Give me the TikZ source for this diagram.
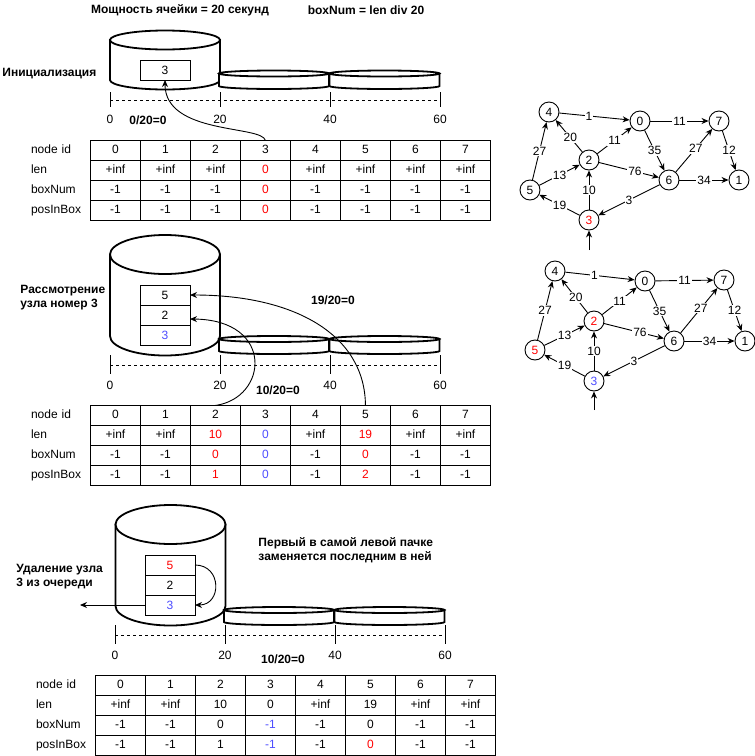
\documentclass[tikz,border=0pt]{standalone}
\usepackage{fontspec}
\setmainfont{Liberation Sans}
\usetikzlibrary{matrix,arrows.meta}
\definecolor{hlred}{RGB}{255,0,0}
\definecolor{hlblue}{RGB}{77,77,255}
\newcommand{\drum}[5]{%
  \draw[drumline,fill=white] (#1-#4,#2) -- (#1-#4,#3) arc[start angle=180,end angle=0,x radius=#4,y radius=#5] -- (#1+#4,#2) -- cycle;
  \draw[drumline,fill=white] (#1,#2) ellipse[x radius=#4,y radius=#5];}

\begin{document}
\begin{tikzpicture}[x=1pt,y=-1pt,line width=0.9pt,>={Stealth[length=7pt,width=6pt]},
    font=\fontsize{12}{14}\selectfont,
    drumline/.style={line width=1.8pt},
    slot/.style={draw,minimum width=50pt,minimum height=20pt,inner sep=0pt,outer sep=0pt,fill=white},
    head/.style={font=\fontsize{12}{14}\selectfont\bfseries,align=left,inner sep=0pt},
    vert/.style={draw,circle,minimum size=20pt,inner sep=0pt,fill=white},
    wt/.style={fill=white,inner sep=1pt},
    tbl/.style={matrix of nodes,anchor=north west,inner sep=0pt,outer sep=0pt,column sep=-0.9pt,row sep=-0.9pt,
      nodes={draw,minimum width=50pt,minimum height=20pt,inner sep=0pt,outer sep=0pt,anchor=center,text height=9pt,text depth=2pt},
      column 1/.style={nodes={draw=none,text width=59.9pt,align=left}}}]
    \useasboundingbox (0,0) rectangle (755,756);

    \node[head] (cap) at (180,10) {Мощность ячейки = 20 секунд};
    \node[head] (rule) at (366,10) {boxNum = len div 20};

    \drum{165}{40}{80}{55}{9.5}
    \drum{274}{73.5}{86}{55}{3}
    \drum{384.5}{73.5}{86}{55}{3}
    \draw (110,92) -- (110,107) (220,92) -- (220,107) (330,92) -- (330,107) (440,92) -- (440,107);
    \draw[dash pattern=on 3pt off 3pt] (110,100) -- (440,100);
    \node (axA0) at (110,119) {0};
    \node (axA20) at (220,119) {20};
    \node (axA40) at (330,119) {40};
    \node (axA60) at (440,119) {60};
    \node[head,anchor=west] (initA) at (2,74) {Инициализация};
    \node[head] (divA) at (148,120) {0/20=0};
    \node[slot] (bA3) at (165,70) {3};
    \matrix[tbl] (tA) at (31,140) {
      node id & 0 & 1 & 2 & 3 & 4 & 5 & 6 & 7 \\
      len & +inf & +inf & +inf & |[text=hlred]| 0 & +inf & +inf & +inf & +inf \\
      boxNum & -1 & -1 & -1 & |[text=hlred]| 0 & -1 & -1 & -1 & -1 \\
      posInBox & -1 & -1 & -1 & |[text=hlred]| 0 & -1 & -1 & -1 & -1 \\
    };
    \draw[->] (tA-1-5.north) .. controls (262,125) and (165,135) .. (bA3.south);

    \drum{165}{254.5}{336}{55}{19.5}
    \drum{274}{339}{351}{55}{3}
    \drum{384.5}{339}{351}{55}{3}
    \draw (110,355) -- (110,374) (220,355) -- (220,374) (330,355) -- (330,374) (440,355) -- (440,374);
    \draw[dash pattern=on 3pt off 3pt] (110,365) -- (440,365);
    \node (axB0) at (110,385) {0};
    \node (axB20) at (220,385) {20};
    \node (axB40) at (330,385) {40};
    \node (axB60) at (440,385) {60};
    \node[head,anchor=west] (stepB) at (20,298) {Рассмотрение\\узла номер 3};
    \node[head] (divB5) at (333,300) {19/20=0};
    \node[head] (divB2) at (278,390) {10/20=0};
    \node[slot] (bB5) at (165,295) {5};
    \node[slot] (bB2) at (165,315) {2};
    \node[slot,text=hlblue] (bB3) at (165,335) {3};
    \matrix[tbl] (tB) at (31,405) {
      node id & 0 & 1 & 2 & 3 & 4 & 5 & 6 & 7 \\
      len & +inf & +inf & |[text=hlred]| 10 & |[text=hlblue]| 0 & +inf & |[text=hlred]| 19 & +inf & +inf \\
      boxNum & -1 & -1 & |[text=hlred]| 0 & |[text=hlblue]| 0 & -1 & |[text=hlred]| 0 & -1 & -1 \\
      posInBox & -1 & -1 & |[text=hlred]| 1 & |[text=hlblue]| 0 & -1 & |[text=hlred]| 2 & -1 & -1 \\
    };
    \draw[->] (tB-1-7.north) .. controls (365,335) and (295,295) .. (bB5.east);
    \draw[->] (tB-1-4.north) .. controls (268,398) and (275,320) .. ([yshift=-4pt]bB2.east);

    \drum{170.5}{524.5}{606}{55}{19.5}
    \drum{279}{610}{622}{55}{3}
    \drum{389.5}{610}{622}{55}{3}
    \draw (115,625) -- (115,644) (225,625) -- (225,644) (335,625) -- (335,644) (445,625) -- (445,644);
    \draw[dash pattern=on 3pt off 3pt] (115,635) -- (445,635);
    \node (axC0) at (115,655) {0};
    \node (axC20) at (225,655) {20};
    \node (axC40) at (335,655) {40};
    \node (axC60) at (445,655) {60};
    \node[head,anchor=west] (stepC) at (16,577) {Удаление узла\\3 из очереди};
    \node[head,anchor=west] (noteC) at (258,550) {Первый в самой левой пачке\\заменяется последним в ней};
    \node[head] (divC) at (283,659) {10/20=0};
    \node[slot,text=hlred] (bC5) at (170,565) {5};
    \node[slot] (bC2) at (170,585) {2};
    \node[slot,text=hlblue] (bC3) at (170,605) {3};
    \coordinate (outC) at (80,605);
    \draw[->] (bC3) -- (outC);
    \draw[->] (bC5.east) .. controls (222,565) and (222,605) .. (bC3.east);
    \matrix[tbl] (tC) at (36,675) {
      node id & 0 & 1 & 2 & 3 & 4 & 5 & 6 & 7 \\
      len & +inf & +inf & 10 & 0 & +inf & 19 & +inf & +inf \\
      boxNum & -1 & -1 & 0 & |[text=hlblue]| -1 & -1 & 0 & -1 & -1 \\
      posInBox & -1 & -1 & 1 & |[text=hlblue]| -1 & -1 & |[text=hlred]| 0 & -1 & -1 \\
    };

    \node[vert] (gA4) at (549,112) {4};
    \node[vert] (gA0) at (640,121) {0};
    \node[vert] (gA7) at (719,121) {7};
    \node[vert] (gA2) at (589,160) {2};
    \node[vert] (gA5) at (530,190) {5};
    \node[vert] (gA6) at (669,180) {6};
    \node[vert] (gA1) at (739,180) {1};
    \node[vert,text=hlred] (gA3) at (589,220) {3};
    \coordinate (gAin) at (589,250);
    \draw[->] (gA4) -- node[wt,pos=.42] {1} (gA0);
    \draw[->] (gA0) -- node[wt] {11} (gA7);
    \draw[->] (gA0) -- node[wt] {35} (gA6);
    \draw[->] (gA2) -- node[wt,pos=.45] {20} (gA4);
    \draw[->] (gA2) -- node[wt] {11} (gA0);
    \draw[->] (gA5) -- node[wt] {27} (gA4);
    \draw[->] (gA5) -- node[wt] {13} (gA2);
    \draw[->] (gA2) -- node[wt,pos=.6] {76} (gA6);
    \draw[->] (gA6) -- node[wt,pos=.55] {27} (gA7);
    \draw[->] (gA7) -- node[wt] {12} (gA1);
    \draw[->] (gA6) -- node[wt] {34} (gA1);
    \draw[->] (gA3) -- node[wt] {10} (gA2);
    \draw[->] (gA3) -- node[wt] {19} (gA5);
    \draw[->] (gA6) -- node[wt] {3} (gA3);
    \draw[->] (gAin) -- (gA3);

    \node[vert] (gB4) at (555,271) {4};
    \node[vert] (gB0) at (645,281) {0};
    \node[vert] (gB7) at (724,280) {7};
    \node[vert,text=hlred] (gB2) at (594,321) {2};
    \node[vert,text=hlred] (gB5) at (535,350) {5};
    \node[vert] (gB6) at (674,341) {6};
    \node[vert] (gB1) at (745,341) {1};
    \node[vert,text=hlblue] (gB3) at (594,381) {3};
    \coordinate (gBin) at (594,410);
    \draw[->] (gB4) -- node[wt,pos=.42] {1} (gB0);
    \draw[->] (gB0) -- node[wt] {11} (gB7);
    \draw[->] (gB0) -- node[wt] {35} (gB6);
    \draw[->] (gB2) -- node[wt,pos=.45] {20} (gB4);
    \draw[->] (gB2) -- node[wt] {11} (gB0);
    \draw[->] (gB5) -- node[wt] {27} (gB4);
    \draw[->] (gB5) -- node[wt] {13} (gB2);
    \draw[->] (gB2) -- node[wt,pos=.6] {76} (gB6);
    \draw[->] (gB6) -- node[wt,pos=.55] {27} (gB7);
    \draw[->] (gB7) -- node[wt] {12} (gB1);
    \draw[->] (gB6) -- node[wt] {34} (gB1);
    \draw[->] (gB3) -- node[wt] {10} (gB2);
    \draw[->] (gB3) -- node[wt] {19} (gB5);
    \draw[->] (gB6) -- node[wt] {3} (gB3);
    \draw[->] (gBin) -- (gB3);
\end{tikzpicture}
\end{document}
